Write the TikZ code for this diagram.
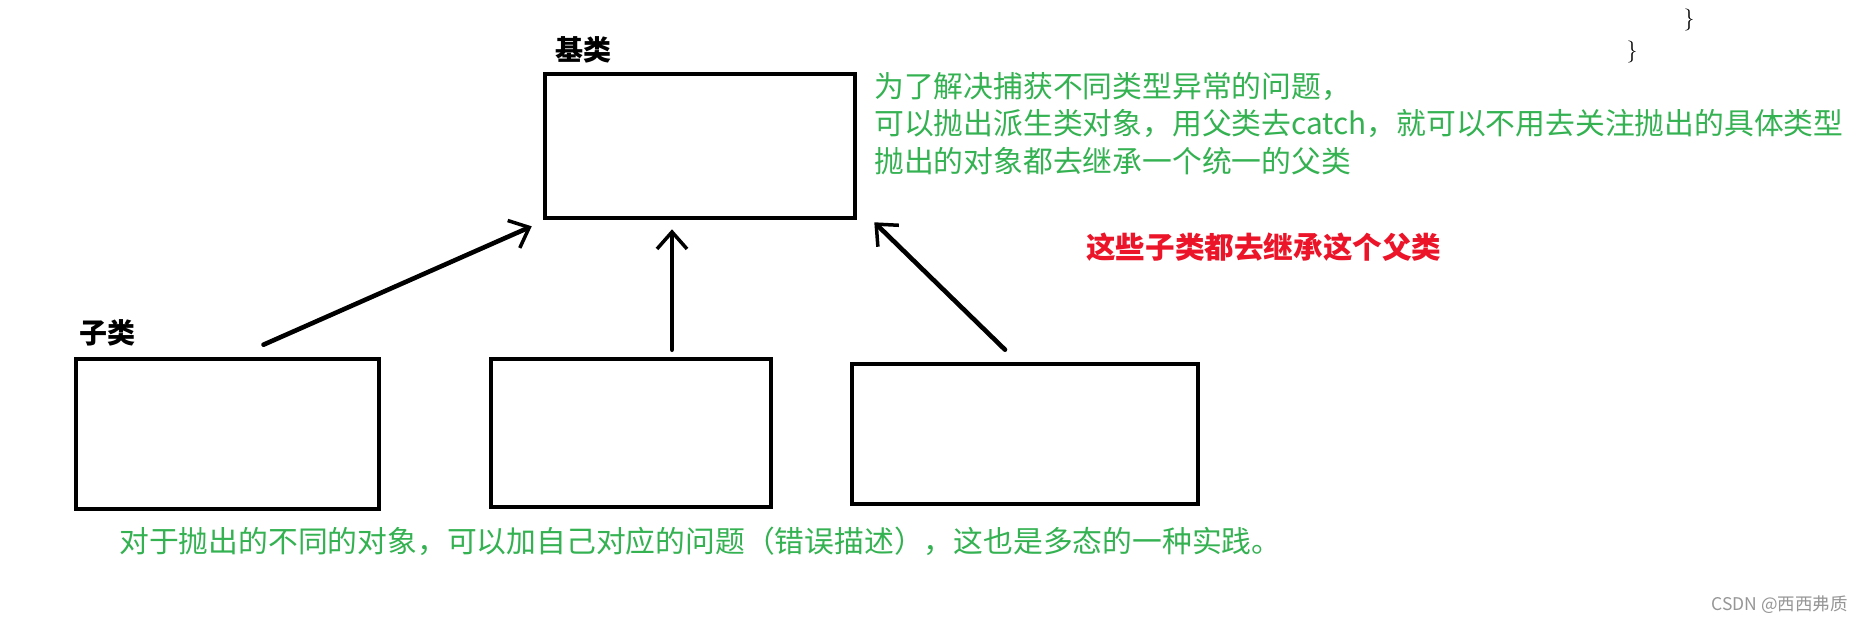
\documentclass[tikz,border=0pt]{standalone}
\usepackage{fontspec}
\newfontfamily\cjk{Noto Sans CJK SC}
\usetikzlibrary{arrows.meta,calc}
\definecolor{notegreen}{RGB}{52,178,82}
\definecolor{notered}{RGB}{235,20,40}
\definecolor{wmgray}{RGB}{150,150,150}
\tikzset{
  classbox/.style={draw=black,line width=4.6pt,fill=white,inner sep=0pt},
  inherit/.style={line width=4.6pt,line cap=round,-{Straight Barb[length=17pt,width=30pt,line width=3.5pt]}},
  greennote/.style={text=notegreen,font=\cjk\fontsize{29.8}{37}\selectfont,inner sep=0pt,anchor=west},
  rednote/.style={text=notered,font=\cjk\bfseries\fontsize{29.6}{37}\selectfont,inner sep=0pt,anchor=west},
  classlabel/.style={text=black,font=\cjk\bfseries\fontsize{28}{30}\selectfont,inner sep=0pt},
}
\begin{document}
\begin{tikzpicture}[x=1pt,y=-1pt]
\useasboundingbox[fill=white] (0,0) rectangle (1865,623);

% boxes
\node[classbox,minimum width=310pt,minimum height=144pt] (base) at (700,146) {};
\node[classbox,minimum width=303pt,minimum height=150pt] (c1) at (227.5,434) {};
\node[classbox,minimum width=280pt,minimum height=148pt] (c2) at (631,433) {};
\node[classbox,minimum width=346pt,minimum height=140pt] (c3) at (1025,434) {};

% labels
\node[classlabel] (lbase) at (583,50) {基类};
\node[classlabel] (lsub) at (107,333) {子类};

% arrows
\draw[inherit] ($(c1.north)+(36,-12)$) -- ($(base.south west)+(-11,6)$);
\draw[inherit] ($(c2.north)+(41,-7)$) -- ($(base.south)+(-28,9)$);
\draw[inherit] ($(c3.north)+(-20,-12)$) -- ($(base.south east)+(17,2)$);

% notes
\node[greennote] (g1) at (874,87) {为了解决捕获不同类型异常的问题，};
\node[greennote] (g2) at (874,124) {可以抛出派生类对象，用父类去catch，就可以不用去关注抛出的具体类型};
\node[greennote] (g3) at (874,161) {抛出的对象都去继承一个统一的父类};
\node[rednote] (r1) at (1086,247) {这些子类都去继承这个父类};
\node[greennote] (g4) at (119,541) {对于抛出的不同的对象，可以加自己对应的问题（错误描述），这也是多态的一种实践。};

% braces
\node[font=\fontsize{22}{24}\selectfont,inner sep=0pt] (br1) at (1689,20) {\}};
\node[font=\fontsize{22}{24}\selectfont,inner sep=0pt] (br2) at (1632,52) {\}};

% watermark
\node[text=wmgray,font=\cjk\fontsize{17.5}{20}\selectfont,inner sep=0pt,anchor=east] (wm) at (1848,605) {CSDN @西西弗质};
\end{tikzpicture}
\end{document}
